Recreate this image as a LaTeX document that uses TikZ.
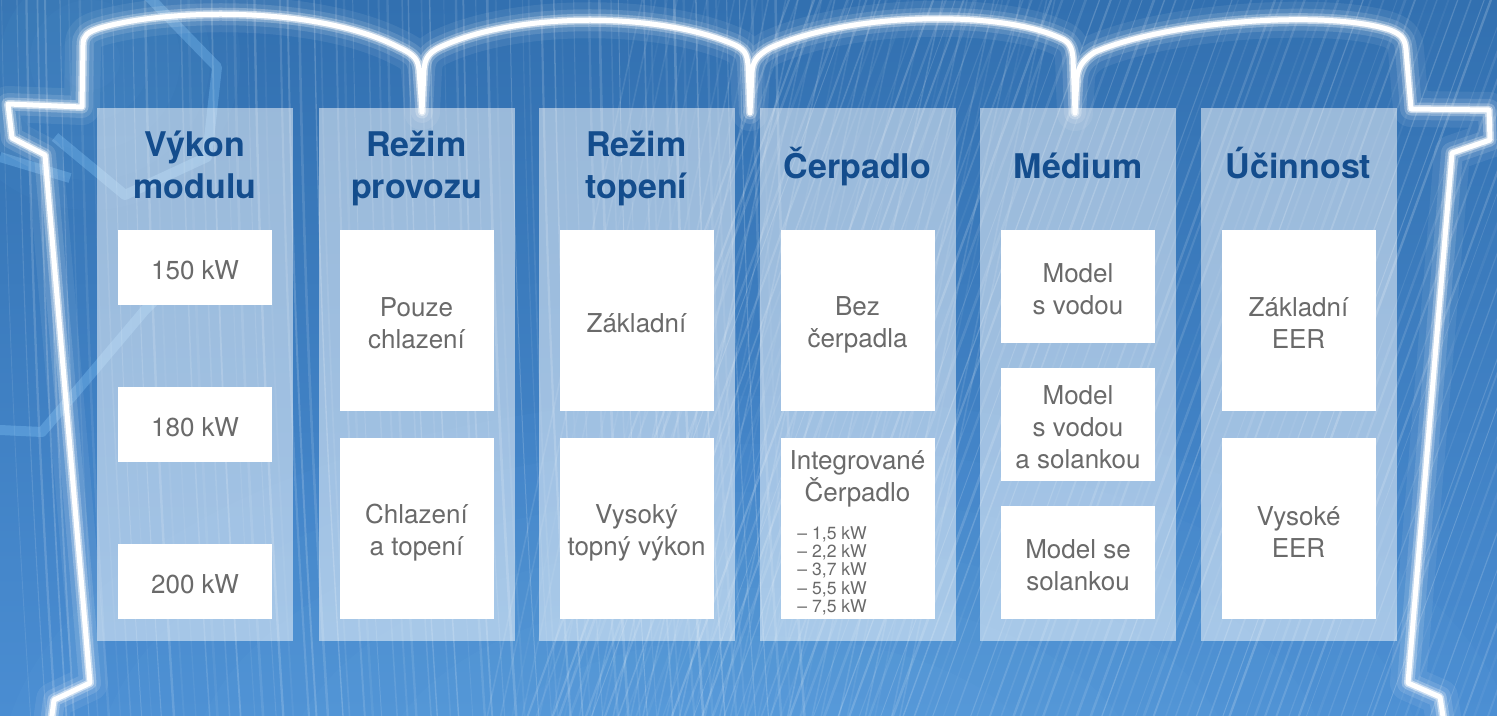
\documentclass[tikz,border=0pt]{standalone}
\usepackage{fontspec}
\setmainfont{TeX Gyre Heros}
\definecolor{bgtop}{HTML}{3270B0}
\definecolor{bgbot}{HTML}{4A8DD2}
\definecolor{hilite}{HTML}{82C4F8}
\definecolor{headc}{HTML}{144D8D}
\definecolor{textc}{HTML}{6A6A6A}
\begin{document}
\begin{tikzpicture}[x=0.5pt,y=-0.5pt,
  panel/.style={fill=white, fill opacity=0.5, draw=none, inner sep=0pt, minimum width=98pt, minimum height=266.5pt},
  wbox/.style={fill=white, draw=none, inner sep=0pt, minimum width=77pt},
  head/.style={text=headc, inner sep=0pt, anchor=base, font=\fontsize{17}{21}\selectfont\bfseries},
  bodytxt/.style={text=textc, align=center, inner sep=0pt, font=\fontsize{13}{16}\selectfont},
  smalltxt/.style={text=textc, align=left, inner sep=0pt, font=\fontsize{8.8}{9.15}\selectfont},
  band/.style={hilite, draw opacity=0.35, line width=5pt, line join=round},
  glowline/.style={white, line join=round, line cap=round}
]
\useasboundingbox (0,0) rectangle (1497,716);
% ---------- background ----------
\begin{scope}
\clip (0,0) rectangle (1497,716);
\shade[top color=bgtop, bottom color=bgbot] (0,0) rectangle (1497,716);
\foreach \r in {1,...,8} \fill[hilite, opacity=0.045] (760,780) ellipse ({\r*95} and {\r*48});
\foreach \r in {1,...,5} \fill[hilite, opacity=0.04] (90,60) ellipse ({\r*30} and {\r*30});
\pgfmathsetseed{42}
\foreach \i in {0,...,70} {
  \pgfmathsetmacro\xa{\i*11+rnd*6}
  \pgfmathsetmacro\op{0.05+0.14*rnd}
  \pgfmathsetmacro\lw{0.4+0.9*rnd}
  \draw[white, draw opacity=\op, line width={\lw*1pt}] (\xa,-10) .. controls (\xa+5,300) and (\xa+15,500) .. (\xa+30,730);
}
\foreach \i in {0,...,95} {
  \pgfmathsetmacro\xb{520+\i*11+rnd*6}
  \pgfmathsetmacro\op{0.05+0.14*rnd}
  \pgfmathsetmacro\lw{0.4+0.9*rnd}
  \draw[white, draw opacity=\op, line width={\lw*1pt}] (\xb,730) -- (\xb+270,-10);
}
\foreach \i in {0,...,32} {
  \pgfmathsetmacro\xc{640+\i*13+rnd*6}
  \pgfmathsetmacro\op{0.04+0.10*rnd}
  \draw[white, draw opacity=\op, line width=0.8pt] (\xc,-10) -- (\xc-160,730);
}
\draw[band] (147,-5) -- (217,67) -- (207,157) -- (125,195) -- (55,137);
\draw[band] (0,157) -- (70,178);
\draw[band] (0,430) -- (42,432) -- (145,310) -- (215,240);
\end{scope}
% ---------- panels ----------
\node[panel] (p1) at (195,374.5) {};
\node[panel] (p2) at (416.5,374.5) {};
\node[panel] (p3) at (636.5,374.5) {};
\node[panel] (p4) at (857.5,374.5) {};
\node[panel] (p5) at (1078,374.5) {};
\node[panel] (p6) at (1298.5,374.5) {};
% ---------- outline with glow ----------
\def\outline{(50,730) -- (54,700) -- (90,683) -- (45,155) -- (12,138) -- (8,104) -- (82,107) -- (83,45)
 .. controls (83,35) and (88,32) .. (100,28)
 .. controls (170,8) and (320,6) .. (400,48)
 .. controls (415,55) and (418,60) .. (419,70) -- (422,112) -- (424,70)
 .. controls (425,58) and (428,52) .. (445,45)
 .. controls (520,12) and (660,12) .. (735,45)
 .. controls (745,50) and (747,54) .. (748,65) -- (750,113) -- (752,72)
 .. controls (753,62) and (756,56) .. (770,48)
 .. controls (850,12) and (1000,10) .. (1060,38)
 .. controls (1070,42) and (1072,48) .. (1073,58) -- (1075,113) -- (1077,78)
 .. controls (1078,68) and (1082,60) .. (1095,52)
 .. controls (1170,20) and (1330,10) .. (1390,30)
 .. controls (1403,35) and (1405,40) .. (1406,50) -- (1411,109) -- (1489,110) -- (1490,140) -- (1452,153) -- (1408,683) -- (1440,697) -- (1445,730)}
\draw[glowline, draw opacity=0.07, line width=18pt] \outline;
\draw[glowline, draw opacity=0.12, line width=11pt] \outline;
\draw[glowline, draw opacity=0.25, line width=6.5pt] \outline;
\draw[glowline, draw opacity=0.5, line width=4pt] \outline;
\draw[glowline, line width=2.5pt] \outline;
% ---------- headers ----------
\node[head] (h1) at (195,157) {Výkon};
\node[head] (h1b) at (195,199) {modulu};
\node[head] (h2) at (416.5,157) {Režim};
\node[head] (h2b) at (416.5,199) {provozu};
\node[head] (h3) at (636.5,157) {Režim};
\node[head] (h3b) at (636.5,199) {topení};
\node[head] (h4) at (857.5,179) {Čerpadlo};
\node[head] (h5) at (1078,179) {Médium};
\node[head] (h6) at (1298.5,179) {Účinnost};
% ---------- column 1 ----------
\node[wbox, minimum height=37.5pt] (b11) at (195,267.5) {};
\node[wbox, minimum height=37.5pt] (b12) at (195,424.5) {};
\node[wbox, minimum height=37.5pt] (b13) at (195,581.5) {};
\node[bodytxt] (t11) at ([yshift=-1.5pt]b11.center) {150 kW};
\node[bodytxt] (t12) at ([yshift=-1.5pt]b12.center) {180 kW};
\node[bodytxt] (t13) at ([yshift=-1.5pt]b13.center) {200 kW};
% ---------- column 2 ----------
\node[wbox, minimum height=90.5pt] (b21) at (416.5,320.5) {};
\node[wbox, minimum height=90.5pt] (b22) at (416.5,528.5) {};
\node[bodytxt] (t21) at ([yshift=-1.2pt]b21.center) {Pouze\\chlazení};
\node[bodytxt] (t22) at ([yshift=-2pt]b22.center) {Chlazení\\a topení};
% ---------- column 3 ----------
\node[wbox, minimum height=90.5pt] (b31) at (636.5,320.5) {};
\node[wbox, minimum height=90.5pt] (b32) at (636.5,528.5) {};
\node[bodytxt] (t31) at ([yshift=-1.2pt]b31.center) {Základní};
\node[bodytxt] (t32) at ([yshift=-2pt]b32.center) {Vysoký\\topný výkon};
% ---------- column 4 ----------
\node[wbox, minimum height=90.5pt] (b41) at (857.5,320.5) {};
\node[wbox, minimum height=90.5pt] (b42) at (857.5,528.5) {};
\node[bodytxt] (t41) at ([yshift=-2pt]b41.center) {Bez\\čerpadla};
\node[bodytxt, anchor=north] (t42) at (857.5,450) {Integrované\\Čerpadlo};
\node[smalltxt, anchor=north west] (l42) at (797,526) {– 1,5 kW\\– 2,2 kW\\– 3,7 kW\\– 5,5 kW\\– 7,5 kW};
% ---------- column 5 ----------
\node[wbox, minimum height=56.5pt] (b51) at (1078,286.5) {};
\node[wbox, minimum height=56.5pt] (b52) at (1078,424.5) {};
\node[wbox, minimum height=56.5pt] (b53) at (1078,562.5) {};
\node[bodytxt] (t51) at ([yshift=-1.2pt]b51.center) {Model\\s vodou};
\node[bodytxt] (t52) at ([yshift=-1.2pt]b52.center) {Model\\s vodou\\a solankou};
\node[bodytxt] (t53) at ([yshift=-1.2pt]b53.center) {Model se\\solankou};
% ---------- column 6 ----------
\node[wbox, minimum height=90.5pt] (b61) at (1298.5,320.5) {};
\node[wbox, minimum height=90.5pt] (b62) at (1298.5,528.5) {};
\node[bodytxt] (t61) at ([yshift=-1.5pt]b61.center) {Základní\\EER};
\node[bodytxt] (t62) at ([yshift=-1.8pt]b62.center) {Vysoké\\EER};
\end{tikzpicture}
\end{document}
